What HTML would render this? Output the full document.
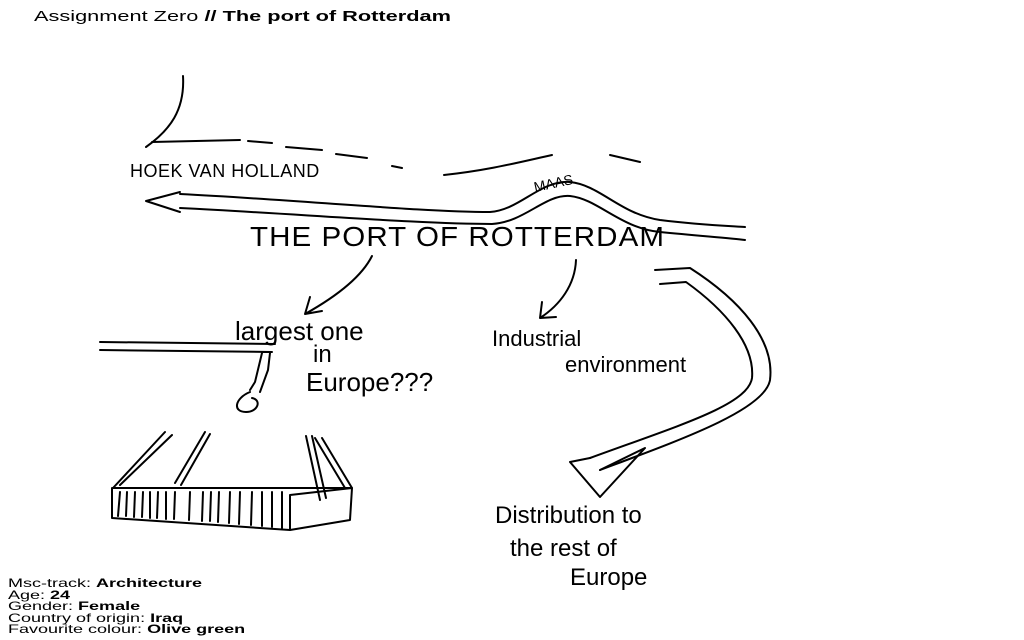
<!DOCTYPE html>
<html><head><meta charset="utf-8"><style>
html,body{margin:0;padding:0;background:#fff;width:1024px;height:640px;overflow:hidden}
svg{position:absolute;left:0;top:0}
.h{font-family:"Liberation Sans",sans-serif;font-weight:normal;fill:#000}
.info{position:absolute;left:8px;top:578px;font-family:"Liberation Sans",sans-serif;font-size:12px;line-height:11.5px;color:#000;transform:scaleX(1.5);transform-origin:0 0;white-space:nowrap}
.info b{font-weight:bold}
.title{position:absolute;left:34px;top:8px;font-family:"Liberation Sans",sans-serif;font-size:15px;color:#000;transform:scaleX(1.45);transform-origin:0 0;white-space:nowrap}
</style></head><body>
<div class="title">Assignment Zero <b>// The port of Rotterdam</b></div>
<svg width="1024" height="640" viewBox="0 0 1024 640" fill="none" stroke="#000" stroke-width="2" stroke-linecap="round" stroke-linejoin="round">
<path d="M183 76 C185 110 170 130 146 147 M152 142 L240 140"/>
<path d="M248 141 L272 143 M286 147 L322 150 M336 154 L367 158 M392 166 L402 168 M444 175 C490 170 520 162 552 155 M610 155 L640 162"/>
<text class="h" x="130" y="177" font-size="18" stroke="none" letter-spacing="0.5">HOEK VAN HOLLAND</text>
<path d="M180 194 C300 200 420 212 490 212 C520 210 540 180 570 182 C600 185 620 214 660 220 C700 225 730 226 745 227"/>
<path d="M180 208 C300 214 420 224 492 224 C525 222 545 194 570 196 C598 199 620 228 660 232 C700 236 730 238 745 240"/>
<path d="M180 192 L146 201 L180 212" stroke-width="2"/>
<text class="h" x="535" y="192" font-size="14" stroke="none" transform="rotate(-12 535 192)">MAAS</text>
<text class="h" x="250" y="246" font-size="28" stroke="none" letter-spacing="1" textLength="415" lengthAdjust="spacingAndGlyphs">THE PORT OF ROTTERDAM</text>
<path d="M372 256 C360 280 330 300 305 314 M305 314 L310 297 M305 314 L322 311"/>
<path d="M576 260 C575 285 560 305 540 318 M540 318 L542 302 M540 318 L556 317"/>
<path d="M655 270 L690 268 C740 300 775 340 770 380 C765 410 680 440 600 470"/>
<path d="M660 284 L686 282 C725 310 755 345 752 378 C748 405 680 425 590 458"/>
<path d="M590 458 L570 462 L600 497 L645 448 L600 470"/>
<path d="M100 342 L275 344 M100 350 L272 352 M270 353 L268 370 M262 353 L255 382 M268 370 L260 392 M255 382 L250 390"/>
<path d="M250 392 C235 398 232 412 246 412 C258 412 262 400 252 398"/>
<path d="M113 488 L165 432 M120 485 L172 435 M175 483 L205 432 M181 485 L210 434 M306 436 L320 500 M312 436 L326 498 M315 438 L345 488 M322 438 L352 488"/>
<path d="M112 488 L280 488 L352 488 L350 520 L290 530 L112 518 Z M290 495 L290 530 M290 495 L352 488"/>
<path d="M120 492 L118 516 M127 492 L126 516 M135 492 L134 517 M143 492 L142 517 M150 492 L150 518 M158 492 L157 518 M166 492 L166 519 M175 492 L174 519 M190 492 L189 520 M203 492 L202 521 M211 492 L210 521 M219 492 L218 522 M230 492 L229 523 M240 492 L239 524 M252 492 L251 525 M262 492 L262 526 M272 492 L272 527 M282 492 L282 528"/>
<g stroke="none" fill="#000">
<text class="h" x="235" y="340" font-size="26">largest one</text>
<text class="h" x="313" y="362" font-size="24">in</text>
<text class="h" x="306" y="391" font-size="26">Europe???</text>
<text class="h" x="492" y="346" font-size="22">Industrial</text>
<text class="h" x="565" y="372" font-size="22">environment</text>
<text class="h" x="495" y="523" font-size="24">Distribution to</text>
<text class="h" x="510" y="556" font-size="24">the rest of</text>
<text class="h" x="570" y="585" font-size="24">Europe</text>
</g>
</svg>
<div class="info">Msc-track: <b>Architecture</b><br>Age: <b>24</b><br>Gender: <b>Female</b><br>Country of origin: <b>Iraq</b><br>Favourite colour: <b>Olive green</b></div>
</body></html>
